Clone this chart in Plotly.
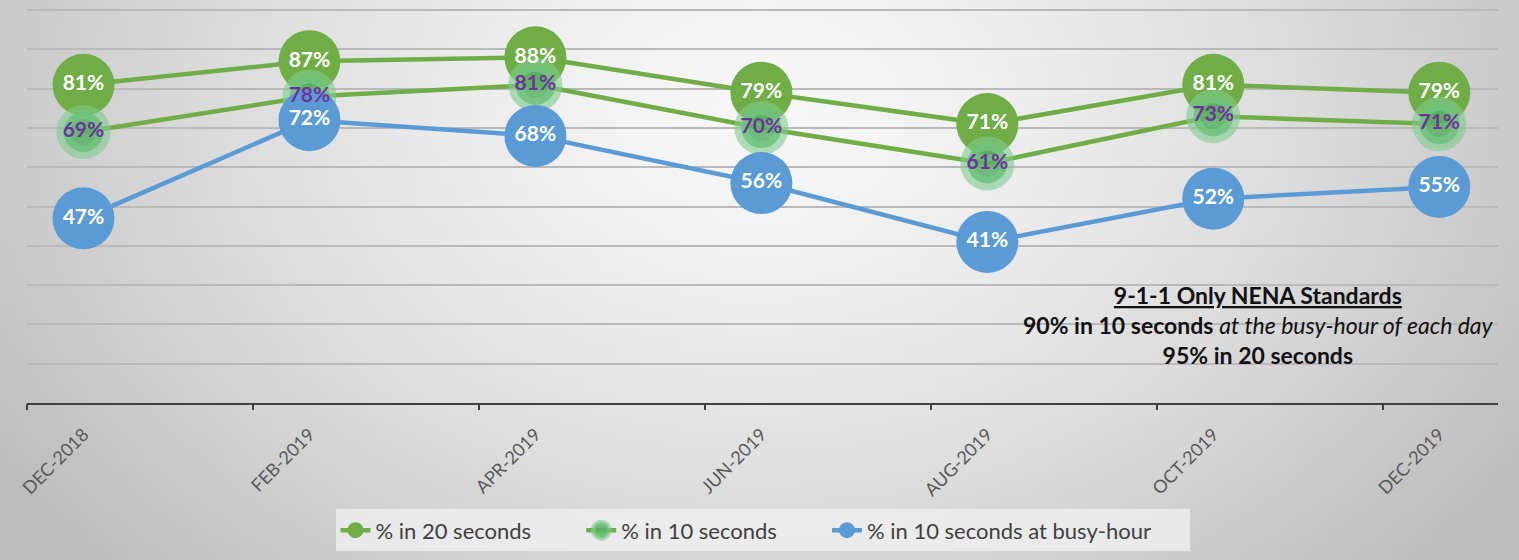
import base64
import struct
import zlib

import plotly.graph_objects as go

# ---------------- data ----------------
months = ["DEC-2018", "FEB-2019", "APR-2019", "JUN-2019", "AUG-2019", "OCT-2019", "DEC-2019"]
pct_20s = [81, 87, 88, 79, 71, 81, 79]
pct_10s = [69, 78, 81, 70, 61, 73, 71]
pct_busy = [47, 72, 68, 56, 41, 52, 55]
legend_names = ["% in 20 seconds", "% in 10 seconds", "% in 10 seconds at busy-hour"]

# ---------------- style ----------------
W, H = 1519, 560
M_L, M_R, M_T, M_B = 27, 21, 9, 157
GREEN = "#70AD47"
BLUE = "#5B9BD5"
PURPLE = "#7030A0"
FONT = "Lato"
GAP = "\u00a0" * 8

xs = list(range(len(months)))
boundaries = [i - 0.25 for i in range(len(months))]


def gradient_png(w, h):
    rows = []
    cx, cy = 0.5, 0.2
    for j in range(h):
        row = bytearray([0])
        for i in range(w):
            dx = (i / (w - 1) - cx) / 0.6
            dy = (j / (h - 1) - cy) / 1.2
            d = min(1.0, (dx * dx + dy * dy) ** 0.5)
            v = int(247 - 58 * d ** 1.5)
            row.append(v)
        rows.append(bytes(row))
    raw = b"".join(rows)

    def chunk(tag, data):
        c = struct.pack(">I", len(data)) + tag + data
        return c + struct.pack(">I", zlib.crc32(tag + data) & 0xFFFFFFFF)

    png = b"\x89PNG\r\n\x1a\n"
    png += chunk(b"IHDR", struct.pack(">IIBBBBB", w, h, 8, 0, 0, 0, 0))
    png += chunk(b"IDAT", zlib.compress(raw, 9))
    png += chunk(b"IEND", b"")
    return "data:image/png;base64," + base64.b64encode(png).decode()


fig = go.Figure()

# series 1: 20 seconds
fig.add_trace(go.Scatter(
    x=xs, y=pct_20s, name=legend_names[0] + GAP, mode="lines+markers",
    line=dict(color=GREEN, width=4.5),
    marker=dict(size=62, color=GREEN),
))
# series 2: 10 seconds
fig.add_trace(go.Scatter(
    x=xs, y=pct_10s, name=legend_names[1] + GAP, mode="lines+markers",
    line=dict(color=GREEN, width=4.5),
    marker=dict(size=40, color="rgba(88,178,100,0.85)",
                line=dict(color="rgba(125,204,140,0.6)", width=14)),
))
# series 3: busy hour
fig.add_trace(go.Scatter(
    x=xs, y=pct_busy, name=legend_names[2] + "\u00a0" * 6, mode="lines+markers",
    line=dict(color=BLUE, width=4.5),
    marker=dict(size=62, color=BLUE),
))

# data labels on top of everything
for vals, col in [(pct_20s, "white"), (pct_10s, PURPLE), (pct_busy, "white")]:
    fig.add_trace(go.Scatter(
        x=xs, y=vals, mode="text", showlegend=False, hoverinfo="skip",
        text=[f"<b>{v}%</b>" for v in vals],
        textposition="middle center",
        textfont=dict(family=FONT, size=21, color=col),
    ))

# invisible trace to activate the boundary-tick axis
fig.add_trace(go.Scatter(x=boundaries, y=[None] * len(boundaries), xaxis="x2",
                         showlegend=False, hoverinfo="skip", mode="markers"))

plot_w = W - M_L - M_R
plot_h = H - M_T - M_B
xr = [-0.25, 6.26]

fig.update_layout(
    width=W, height=H,
    margin=dict(l=M_L, r=M_R, t=M_T, b=M_B, pad=0),
    paper_bgcolor="#dcdcdc",
    plot_bgcolor="rgba(0,0,0,0)",
    font=dict(family=FONT, color="#404040"),
    showlegend=True,
    legend=dict(
        orientation="h", x=0.5, xanchor="center", y=-0.27, yanchor="top",
        bgcolor="rgba(242,242,242,0.75)", borderwidth=0,
        font=dict(family=FONT, size=22, color="#404040"),
        itemsizing="trace", traceorder="normal",
    ),
    xaxis=dict(
        range=xr, tickmode="array", tickvals=xs, ticktext=months,
        tickangle=-45, ticks="outside", ticklen=12, tickcolor="rgba(0,0,0,0)",
        showgrid=False, zeroline=False,
        showline=True, linecolor="#404040", linewidth=2,
        tickfont=dict(family=FONT, size=18, color="#595959"),
    ),
    xaxis2=dict(
        range=xr, overlaying="x", anchor="y", side="bottom",
        tickmode="array", tickvals=boundaries, showticklabels=False,
        ticks="outside", ticklen=6, tickwidth=2, tickcolor="#404040",
        showgrid=False, zeroline=False, showline=False,
    ),
    yaxis=dict(
        range=[0, 100.3], tickmode="array", tickvals=list(range(0, 101, 10)),
        showticklabels=False, ticks="",
        showgrid=True, gridcolor="#b9b9b9", gridwidth=1.5, zeroline=False,
    ),
    images=[dict(
        source=gradient_png(160, 60), xref="paper", yref="paper",
        x=-M_L / plot_w, y=1 + M_T / plot_h, sizex=W / plot_w, sizey=H / plot_h,
        xanchor="left", yanchor="top", sizing="stretch", layer="below",
    )],
    annotations=[dict(
        xref="paper", yref="paper", x=(1258 - M_L) / plot_w, y=0.198,
        xanchor="center", yanchor="middle", align="center", showarrow=False,
        text=("<b><u>9-1-1 Only NENA Standards</u></b><br>"
              "<b>90% in 10 seconds</b> <i>at the busy-hour of each day</i><br>"
              "<b>95% in 20 seconds</b>"),
        font=dict(family=FONT, size=23, color="#111111"),
    )],
)

fig.write_html("out.html")
